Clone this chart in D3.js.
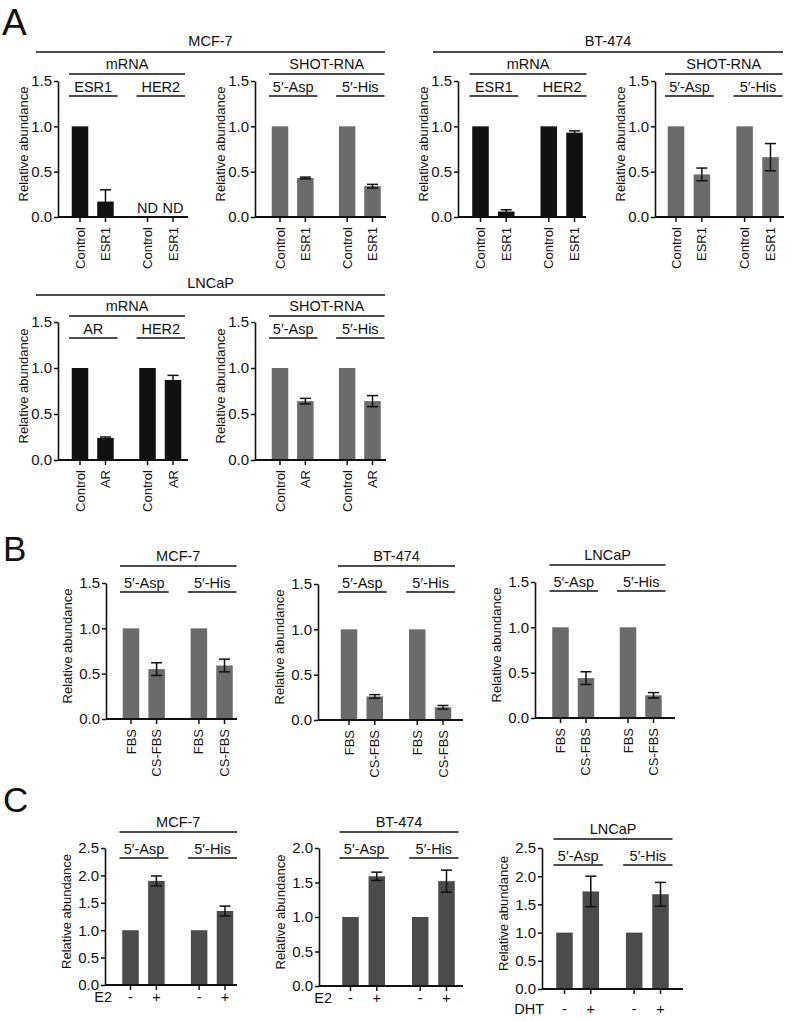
<!DOCTYPE html>
<html><head><meta charset="utf-8">
<script src="https://cdn.jsdelivr.net/npm/d3@7"></script>
<style>
body{margin:0;background:#fff;}
text{font-family:"Liberation Sans",Arial,Helvetica,sans-serif;fill:#111;}
</style>
</head><body>
<svg id="fig" width="793" height="1021"></svg>
<script>
// ---------------- DATA ----------------
// Panel A
const aMcfMrnaCats   = ["Control","ESR1","Control","ESR1"];
const aMcfMrnaGroups = ["ESR1","HER2"];
const aMcfMrnaVals   = [1.0, 0.17, null, null];
const aMcfMrnaErr    = [0, 0.13, 0, 0];
const aMcfMrnaNotes  = ["", "", "ND", "ND"];

const aMcfShotCats   = ["Control","ESR1","Control","ESR1"];
const aMcfShotGroups = ["5\u2032-Asp","5\u2032-His"];
const aMcfShotVals   = [1.0, 0.43, 1.0, 0.34];
const aMcfShotErr    = [0, 0.01, 0, 0.02];

const aBtMrnaCats    = ["Control","ESR1","Control","ESR1"];
const aBtMrnaGroups  = ["ESR1","HER2"];
const aBtMrnaVals    = [1.0, 0.06, 1.0, 0.93];
const aBtMrnaErr     = [0, 0.02, 0, 0.02];

const aBtShotCats    = ["Control","ESR1","Control","ESR1"];
const aBtShotGroups  = ["5\u2032-Asp","5\u2032-His"];
const aBtShotVals    = [1.0, 0.47, 1.0, 0.66];
const aBtShotErr     = [0, 0.07, 0, 0.15];

const aLnMrnaCats    = ["Control","AR","Control","AR"];
const aLnMrnaGroups  = ["AR","HER2"];
const aLnMrnaVals    = [1.0, 0.24, 1.0, 0.87];
const aLnMrnaErr     = [0, 0.01, 0, 0.05];

const aLnShotCats    = ["Control","AR","Control","AR"];
const aLnShotGroups  = ["5\u2032-Asp","5\u2032-His"];
const aLnShotVals    = [1.0, 0.64, 1.0, 0.64];
const aLnShotErr     = [0, 0.03, 0, 0.06];

// Panel B
const bCats    = ["FBS","CS-FBS","FBS","CS-FBS"];
const bGroups  = ["5\u2032-Asp","5\u2032-His"];
const bMcfVals = [1.0, 0.55, 1.0, 0.59];
const bMcfErr  = [0, 0.07, 0, 0.07];
const bBtVals  = [1.0, 0.26, 1.0, 0.14];
const bBtErr   = [0, 0.02, 0, 0.02];
const bLnVals  = [1.0, 0.44, 1.0, 0.25];
const bLnErr   = [0, 0.07, 0, 0.03];

// Panel C
const cCats    = ["-","+","-","+"];
const cGroups  = ["5\u2032-Asp","5\u2032-His"];
const cMcfVals = [1.0, 1.90, 1.0, 1.35];
const cMcfErr  = [0, 0.09, 0, 0.09];
const cBtVals  = [1.0, 1.59, 1.0, 1.52];
const cBtErr   = [0, 0.06, 0, 0.16];
const cLnVals  = [1.0, 1.73, 1.0, 1.68];
const cLnErr   = [0, 0.27, 0, 0.21];

const ticks15 = [0, 0.5, 1.0, 1.5];
const ticks20 = [0, 0.5, 1.0, 1.5, 2.0];
const ticks25 = [0, 0.5, 1.0, 1.5, 2.0, 2.5];
const yTitle = "Relative abundance";

// ---------------- DRAWING ----------------
const svg = d3.select("#fig");
const BLACK = "#111", GRAY = "#6b6b6b", DARK = "#4b4b4b";
const SLOTS = [0, 1, 2.65, 3.65];
const HFS = 14.5;   // horizontal label size
const VFS = 13;     // vertical label size

function hline(x1, x2, y, label, ly) {
  svg.append("line").attr("x1", x1).attr("x2", x2).attr("y1", y).attr("y2", y)
    .attr("stroke", BLACK).attr("stroke-width", 1.6);
  if (label) svg.append("text").attr("x", (x1 + x2) / 2).attr("y", ly)
    .attr("text-anchor", "middle").attr("font-size", HFS).text(label);
}

function chart(o) {
  const y = d3.scaleLinear().domain([0, o.max]).range([o.y0, o.yTop]);
  const x = d3.scaleLinear().domain([0, 3.65]).range([o.c0, o.c3]);
  const g = svg.append("g");
  const bw = 16.5;
  o.vals.forEach((v, i) => {
    if (v == null) return;
    g.append("rect").attr("x", x(SLOTS[i]) - bw / 2).attr("width", bw)
      .attr("y", y(v)).attr("height", y(0) - y(v)).attr("fill", o.color);
  });
  o.vals.forEach((v, i) => {
    const e = o.err[i];
    if (v == null || !e) return;
    const cx = x(SLOTS[i]);
    const cw = 5.5;
    g.append("line").attr("x1", cx).attr("x2", cx).attr("y1", y(v - e)).attr("y2", y(v + e))
      .attr("stroke", BLACK).attr("stroke-width", 1.5);
    [v - e, v + e].forEach(t => g.append("line").attr("x1", cx - cw).attr("x2", cx + cw)
      .attr("y1", y(t)).attr("y2", y(t)).attr("stroke", BLACK).attr("stroke-width", 1.5));
  });
  if (o.notes) o.notes.forEach((n, i) => {
    if (!n) return;
    g.append("text").attr("x", x(SLOTS[i])).attr("y", o.y0 - 4).attr("text-anchor", "middle")
      .attr("font-size", HFS).text(n);
  });
  const ya = g.append("g").attr("transform", `translate(${o.ax},0)`)
    .call(d3.axisLeft(y).tickValues(o.ticks).tickFormat(d3.format(".1f")).tickSize(4).tickSizeOuter(0).tickPadding(2));
  ya.select(".domain").attr("stroke", BLACK).attr("stroke-width", 1.6);
  ya.selectAll(".tick line").attr("stroke", BLACK).attr("stroke-width", 1.5);
  ya.selectAll(".tick text").attr("font-size", 15).attr("font-family", "Liberation Sans, Arial, sans-serif").attr("fill", BLACK);
  g.append("line").attr("x1", o.ax).attr("x2", o.xe).attr("y1", o.y0).attr("y2", o.y0)
    .attr("stroke", BLACK).attr("stroke-width", 1.8);
  o.cats.forEach((c, i) => {
    const cx = x(SLOTS[i]);
    g.append("line").attr("x1", cx).attr("x2", cx).attr("y1", o.y0).attr("y2", o.y0 + 5)
      .attr("stroke", BLACK).attr("stroke-width", 1.5);
    if (o.flat) {
      g.append("text").attr("x", cx).attr("y", o.y0 + o.labDy).attr("text-anchor", "middle")
        .attr("font-size", HFS).text(c);
    } else {
      g.append("text").attr("transform", `translate(${cx},${o.y0 + 10}) rotate(-90)`)
        .attr("text-anchor", "end").attr("dominant-baseline", "central")
        .attr("font-size", VFS).text(c);
    }
  });
  if (o.treat) g.append("text").attr("x", o.ax + o.treatDx).attr("y", o.y0 + o.labDy).attr("text-anchor", "end")
    .attr("font-size", HFS).text(o.treat);
  g.append("text").attr("transform", `translate(${o.ax - o.titleDx},${(o.y0 + o.yTop) / 2 - 5}) rotate(-90)`)
    .attr("text-anchor", "middle").attr("dominant-baseline", "central")
    .attr("font-size", VFS).text(yTitle);
  const s1 = [x(SLOTS[0]) - 11, x(SLOTS[1]) + 12];
  const s2 = [x(SLOTS[2]) - 11, x(SLOTS[3]) + 12];
  hline(s1[0], s1[1], o.subY, o.groups[0], o.subY - 4);
  hline(s2[0], s2[1], o.subY, o.groups[1], o.subY - 4);
  if (o.top) hline(s1[0], s2[1], o.topY, o.top, o.topY - 5);
}

// Panel letters
svg.append("text").attr("x", 2).attr("y", 35).attr("font-size", 37).text("A");
svg.append("text").attr("x", 3).attr("y", 561).attr("font-size", 35).text("B");
svg.append("text").attr("x", 3).attr("y", 812).attr("font-size", 35).text("C");

// ---- Panel A row 1
hline(36, 385, 52, "MCF-7", 46);
hline(433, 783, 52, "BT-474", 46);
chart({ax: 58, xe: 188, c0: 80, c3: 173, y0: 217, yTop: 81, max: 1.5, ticks: ticks15, titleDx: 35,
  cats: aMcfMrnaCats, vals: aMcfMrnaVals, err: aMcfMrnaErr, notes: aMcfMrnaNotes,
  groups: aMcfMrnaGroups, color: BLACK, subY: 96, top: "mRNA", topY: 74});
chart({ax: 255, xe: 386, c0: 280, c3: 372.5, y0: 217, yTop: 81, max: 1.5, ticks: ticks15, titleDx: 35,
  cats: aMcfShotCats, vals: aMcfShotVals, err: aMcfShotErr,
  groups: aMcfShotGroups, color: GRAY, subY: 96, top: "SHOT-RNA", topY: 74});
chart({ax: 458, xe: 586, c0: 480.5, c3: 574.5, y0: 217, yTop: 81, max: 1.5, ticks: ticks15, titleDx: 35,
  cats: aBtMrnaCats, vals: aBtMrnaVals, err: aBtMrnaErr,
  groups: aBtMrnaGroups, color: BLACK, subY: 96, top: "mRNA", topY: 74});
chart({ax: 655, xe: 784, c0: 676, c3: 770.5, y0: 217, yTop: 81, max: 1.5, ticks: ticks15, titleDx: 35,
  cats: aBtShotCats, vals: aBtShotVals, err: aBtShotErr,
  groups: aBtShotGroups, color: GRAY, subY: 96, top: "SHOT-RNA", topY: 74});

// ---- Panel A row 2
hline(36, 385, 295, "LNCaP", 288);
chart({ax: 58, xe: 188, c0: 80, c3: 173, y0: 460, yTop: 322, max: 1.5, ticks: ticks15, titleDx: 35,
  cats: aLnMrnaCats, vals: aLnMrnaVals, err: aLnMrnaErr,
  groups: aLnMrnaGroups, color: BLACK, subY: 338, top: "mRNA", topY: 316});
chart({ax: 255, xe: 386, c0: 280, c3: 372.5, y0: 460, yTop: 322, max: 1.5, ticks: ticks15, titleDx: 35,
  cats: aLnShotCats, vals: aLnShotVals, err: aLnShotErr,
  groups: aLnShotGroups, color: GRAY, subY: 338, top: "SHOT-RNA", topY: 316});

// ---- Panel B
chart({ax: 106, xe: 237, c0: 131, c3: 224.5, y0: 719, yTop: 583, max: 1.5, ticks: ticks15, titleDx: 39,
  cats: bCats, vals: bMcfVals, err: bMcfErr, groups: bGroups, color: GRAY,
  subY: 592, top: "MCF-7", topY: 566});
chart({ax: 318, xe: 463, c0: 349, c3: 443, y0: 720, yTop: 584, max: 1.5, ticks: ticks15, titleDx: 39,
  cats: bCats, vals: bBtVals, err: bBtErr, groups: bGroups, color: GRAY,
  subY: 592, top: "BT-474", topY: 566});
chart({ax: 535, xe: 675, c0: 560.5, c3: 653.5, y0: 718, yTop: 582, max: 1.5, ticks: ticks15, titleDx: 39,
  cats: bCats, vals: bLnVals, err: bLnErr, groups: bGroups, color: GRAY,
  subY: 591, top: "LNCaP", topY: 565});

// ---- Panel C
chart({ax: 105, xe: 237, c0: 130.5, c3: 225, y0: 985, yTop: 848, max: 2.5, ticks: ticks25, titleDx: 39,
  cats: cCats, vals: cMcfVals, err: cMcfErr, groups: cGroups, color: DARK, flat: true,
  treat: "E2", treatDx: 7, labDy: 17, subY: 858, top: "MCF-7", topY: 832});
chart({ax: 319, xe: 463, c0: 350.5, c3: 446.5, y0: 986, yTop: 848, max: 2.0, ticks: ticks20, titleDx: 39,
  cats: cCats, vals: cBtVals, err: cBtErr, groups: cGroups, color: DARK, flat: true,
  treat: "E2", treatDx: 13, labDy: 17, subY: 858, top: "BT-474", topY: 832});
chart({ax: 542, xe: 683, c0: 564.5, c3: 660.5, y0: 989, yTop: 848, max: 2.5, ticks: ticks25, titleDx: 39,
  cats: cCats, vals: cLnVals, err: cLnErr, groups: cGroups, color: DARK, flat: true,
  treat: "DHT", treatDx: 2, labDy: 25, subY: 865, top: "LNCaP", topY: 839});
</script>
</body></html>
